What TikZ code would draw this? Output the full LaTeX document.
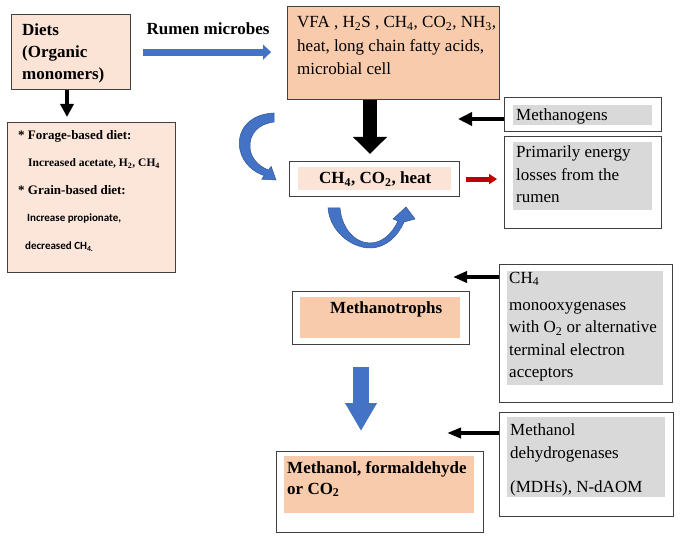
\documentclass[tikz,border=0pt]{standalone}
\usepackage{fontspec}
\setmainfont{Liberation Serif}
\newfontfamily\calfont{Carlito}
\usetikzlibrary{arrows.meta}

\definecolor{peachdark}{HTML}{F8CBAD}
\definecolor{peachlight}{HTML}{FBE3D6}
\definecolor{peachpale}{HTML}{FCE6DA}
\definecolor{hlgray}{HTML}{D9D9D9}
\definecolor{bluefill}{HTML}{4472C4}
\definecolor{blueedge}{HTML}{2F5597}
\definecolor{framegray}{HTML}{404040}
\definecolor{lossred}{HTML}{C00000}

\begin{document}
\begin{tikzpicture}[x=1pt,y=-1pt,
  frame/.style={draw=framegray, line width=1.2pt, inner sep=0pt, anchor=north west},
  % multi-line texts are placed by the baseline of their last line
  txt/.style={inner sep=0pt, anchor=base west, align=left},
  big/.style={font=\fontsize{17}{23.5}\selectfont},
  bigbold/.style={font=\bfseries\fontsize{17}{22}\selectfont},
  blackarrow/.style={draw=black, line width=4pt, -{Triangle[length=13pt,width=13pt]}},
  bluearrow/.style={draw=bluefill, -{Triangle[length=8pt,width=15pt]}},
  blueshape/.style={fill=bluefill, draw=blueedge, line width=0.5pt}]
\useasboundingbox (0,0) rectangle (680,537);

% ---- boxes ----
\node[frame, fill=peachlight, minimum width=119pt, minimum height=75pt] (diets) at (11,14) {};
\node[frame, fill=peachpale, minimum width=168pt, minimum height=150pt] (forage) at (7,122) {};
\node[frame, fill=peachdark, minimum width=212pt, minimum height=93pt] (vfa) at (287,6) {};
\node[frame, fill=white, minimum width=157pt, minimum height=34pt] (mgbox) at (504,97) {};
\node[frame, fill=white, minimum width=170pt, minimum height=35pt] (ch4box) at (289,161) {};
\node[frame, fill=white, minimum width=157pt, minimum height=92pt] (prbox) at (504,136) {};
\node[frame, fill=white, minimum width=177pt, minimum height=53pt] (mtbox) at (292,291) {};
\node[frame, fill=white, minimum width=173pt, minimum height=138pt] (monobox) at (499,264) {};
\node[frame, fill=white, minimum width=174pt, minimum height=104pt] (mdhbox) at (499,412) {};
\node[frame, fill=white, minimum width=207pt, minimum height=81pt] (methbox) at (276,451) {};

% ---- text highlights ----
\fill[hlgray] (513,105) rectangle (652,125);
\fill[hlgray] (513,142) rectangle (652,210);
\fill[peachlight] (298,167) rectangle (451,190);
\fill[peachdark] (300,297) rectangle (460,338);
\fill[hlgray] (507,271) rectangle (663,385);
\fill[hlgray] (507,417) rectangle (665,497);
\fill[peachdark] (284,456) rectangle (474,513);

% ---- texts ----
\node[txt, bigbold] (dietstxt) at (22,80) {Diets\\(Organic\\monomers)};
\node[txt, bigbold, anchor=base] (rumenlbl) at (208,35) {Rumen microbes};
\node[txt, big] (vfatxt) at (297,75)
  {VFA , H\textsubscript{2}S , CH\textsubscript{4}, CO\textsubscript{2}, NH\textsubscript{3},\\heat, long chain fatty acids,\\microbial cell};
\node[txt, big] (mgtxt) at (516,121) {Methanogens};
\node[txt, bigbold] (ch4txt) at (319,184) {CH\textsubscript{4}, CO\textsubscript{2}, heat};
\node[txt, big, font=\fontsize{17}{22.5}\selectfont] (prtxt) at (516,203) {Primarily energy\\losses from the\\rumen};
\node[txt, bigbold] (mttxt) at (330,313) {Methanotrophs};
\node[txt, big, font=\fontsize{17}{22.5}\selectfont] (monotxt) at (509,377.5)
  {CH\textsubscript{4}\\[4.5pt]monooxygenases\\with O\textsubscript{2} or alternative\\terminal electron\\acceptors};
\node[txt, big, font=\fontsize{17}{23}\selectfont] (mdhtxt) at (510,492) {Methanol\\dehydrogenases\\[11pt](MDHs), N-dAOM};
\node[txt, bigbold, font=\bfseries\fontsize{17}{21}\selectfont] (methtxt) at (287,494)
  {Methanol, formaldehyde\\or CO\textsubscript{2}};

\node[txt, font=\bfseries\fontsize{13}{15}\selectfont] (f1) at (18,140) {* Forage-based diet:};
\node[txt, font=\bfseries\fontsize{11.5}{14}\selectfont] (f2) at (28,167) {Increased acetate, H\textsubscript{2}, CH\textsubscript{4}};
\node[txt, font=\bfseries\fontsize{13}{15}\selectfont] (f3) at (18,195) {* Grain-based diet:};
\node[txt, font=\calfont\bfseries\fontsize{11}{13}\selectfont] (f4) at (27,222) {Increase propionate,};
\node[txt, font=\calfont\bfseries\fontsize{11}{13}\selectfont] (f5) at (25,250) {decreased CH\textsubscript{4.}};

% ---- connectors ----
\coordinate (dietx) at (67,0);
\draw[blackarrow] (diets.south -| dietx) -- (forage.north -| dietx) [shorten >=5pt];
\draw[bluearrow, line width=7pt, shorten <=12pt, shorten >=16pt] (diets.east) -- (diets.east -| vfa.west);

\coordinate (bigx) at (370,0);
\draw[draw=black, line width=14pt, -{Triangle[length=17pt,width=33pt]}, shorten >=7pt]
  (vfa.south -| bigx) -- (ch4box.north -| bigx);

\coordinate (mgtip) at (458,119);
\draw[draw=black, line width=4pt, -{Triangle[length=14pt,width=13pt]}] (mgbox.west |- mgtip) -- (mgtip);

\draw[draw=lossred, line width=5pt, -{Triangle[length=8pt,width=10pt]}, shorten <=6pt, shorten >=7pt]
  (ch4box.east) -- (ch4box.east -| prbox.west);

\coordinate (monotip) at (453,277);
\draw[draw=black, line width=4pt, -{Triangle[length=14pt,width=11pt]}] (monobox.west |- monotip) -- (monotip);

\coordinate (mdhtip) at (447,433);
\draw[draw=black, line width=4pt, -{Triangle[length=14pt,width=10pt]}] (mdhbox.west |- mdhtip) -- (mdhtip);

\coordinate (downx) at (361,0);
\draw[draw=bluefill, line width=16pt, -{Triangle[length=28pt,width=30pt]}, shorten <=22pt, shorten >=20pt]
  (mtbox.south -| downx) -- (methbox.north -| downx);

% ---- recycling arrows around the CH4 box ----
\path[blueshape]
  (274,113) .. controls (248,114) and (236,132) .. (240,150)
  .. controls (243,164) and (255,173) .. (264.3,175.6)
  -- (261.6,179.2) -- (276,180) -- (271.2,166.4) -- (268.5,170)
  .. controls (258,166) and (251,158) .. (250,148)
  .. controls (249,134) and (258,124) .. (274,122) -- cycle;
\path[blueshape]
  (328,208) .. controls (330,232) and (352,248) .. (370,248)
  .. controls (386,248) and (398,236) .. (404,222)
  -- (415,219) -- (406,207) -- (393,219) -- (398,221)
  .. controls (392,234) and (382,243) .. (370,243)
  .. controls (356,243) and (342,230) .. (340,208) -- cycle;
\end{tikzpicture}
\end{document}
